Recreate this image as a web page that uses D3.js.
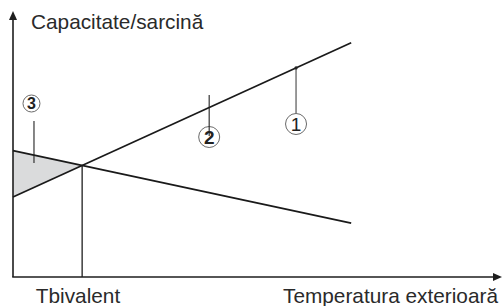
<!DOCTYPE html>
<html><head><meta charset="utf-8">
<script src="https://cdn.jsdelivr.net/npm/d3@7"></script>
<style>html,body{margin:0;padding:0;background:#fff;}svg{display:block;}</style>
</head><body>
<svg id="c" width="502" height="306"></svg>
<script>
// Data (abstract units: x = outside temperature, y = capacity/load, 0..100)
const axisLabels = {y: "Capacitate/sarcină", x: "Temperatura exterioară", bivalent: "Tbivalent"};
const capacityLine = [[0, 30.2], [69.3, 88.4]];   // heat-pump capacity (rises with temp)
const loadLine = [[0, 47.7], [69.3, 20.3]];       // building load (falls with temp)
const markerLabels = ["1", "2", "3"];

const svg = d3.select("#c");
const x = d3.scaleLinear().domain([0, 100]).range([13, 501]);
const y = d3.scaleLinear().domain([0, 100]).range([277, 12]);

function lineAt(l, t) { const [[x0, y0], [x1, y1]] = l; return y0 + (y1 - y0) * (t - x0) / (x1 - x0); }
const sc = (capacityLine[1][1] - capacityLine[0][1]) / (capacityLine[1][0] - capacityLine[0][0]);
const sl = (loadLine[1][1] - loadLine[0][1]) / (loadLine[1][0] - loadLine[0][0]);
const xb = (loadLine[0][1] - capacityLine[0][1]) / (sc - sl);
const yb = lineAt(capacityLine, xb);

const line = d3.line().x(d => x(d[0])).y(d => y(d[1]));

svg.append("path")
  .attr("d", line([[0, loadLine[0][1]], [xb, yb], [0, capacityLine[0][1]]]) + "Z")
  .attr("fill", "#dadbdc").attr("stroke", "none");

const ax = "#1e1e1e";
svg.append("line").attr("x1", x(0)).attr("x2", x(0)).attr("y1", y(0)).attr("y2", y(100) + 6)
  .attr("stroke", ax).attr("stroke-width", 1.6);
svg.append("line").attr("x1", x(0) - 0.8).attr("x2", x(100) - 6).attr("y1", y(0)).attr("y2", y(0))
  .attr("stroke", ax).attr("stroke-width", 1.6);
svg.append("path").attr("d", `M${x(0)},${y(100) - 1} L${x(0) - 4},${y(100) + 8} L${x(0) + 4},${y(100) + 8} Z`).attr("fill", ax);
svg.append("path").attr("d", `M${x(100) + 1},${y(0)} L${x(100) - 8},${y(0) - 4} L${x(100) - 8},${y(0) + 4} Z`).attr("fill", ax);

svg.append("line").attr("x1", x(xb)).attr("x2", x(xb)).attr("y1", y(yb)).attr("y2", y(0))
  .attr("stroke", ax).attr("stroke-width", 1.3);

[capacityLine, loadLine].forEach(l => {
  svg.append("path").attr("d", line(l)).attr("fill", "none").attr("stroke", "#1a1a1a").attr("stroke-width", 1.7);
});

const ff = "'Liberation Sans', Arial, sans-serif";
function marker(cx, cy, r, txt, fs, fw) {
  svg.append("circle").attr("cx", cx).attr("cy", cy).attr("r", r)
    .attr("fill", "#fff").attr("stroke", "#6a6a6a").attr("stroke-width", 1);
  svg.append("text").attr("x", cx).attr("y", cy + fs * 0.36).attr("text-anchor", "middle")
    .attr("font-family", ff).attr("font-weight", fw)
    .attr("font-size", fs).attr("fill", "#222").text(txt);
}
// 1
const x1v = 58;
svg.append("line").attr("x1", x(x1v)).attr("x2", x(x1v)).attr("y1", y(lineAt(capacityLine, x1v))).attr("y2", 114)
  .attr("stroke", "#555").attr("stroke-width", 1.2);
svg.append("circle").attr("cx", x(x1v)).attr("cy", y(lineAt(capacityLine, x1v))).attr("r", 1.6).attr("fill", "#222");
marker(x(x1v), 124, 10.5, markerLabels[0], 19, "normal");
// 2
const x2v = 40.2;
marker(x(x2v), 137, 10.5, markerLabels[1], 19, "bold");
svg.append("line").attr("x1", x(x2v)).attr("x2", x(x2v)).attr("y1", 95).attr("y2", 136)
  .attr("stroke", "#222").attr("stroke-width", 1.1);
// 3
const x3v = 4.3;
svg.append("line").attr("x1", x(x3v)).attr("x2", x(x3v)).attr("y1", 121).attr("y2", 163)
  .attr("stroke", "#222").attr("stroke-width", 1.1);
marker(x(x3v) - 2.5, 103.5, 8.5, markerLabels[2], 16, "bold");

svg.append("text").attr("x", 31).attr("y", 29).attr("font-family", ff).attr("font-size", 20.8).attr("fill", "#2a2a2a").text(axisLabels.y);
svg.append("text").attr("x", 78).attr("y", 303).attr("text-anchor", "middle").attr("font-family", ff).attr("font-size", 20.8).attr("fill", "#2a2a2a").text(axisLabels.bivalent);
svg.append("text").attr("x", 498).attr("y", 303).attr("text-anchor", "end").attr("font-family", ff).attr("font-size", 20.8).attr("fill", "#2a2a2a").text(axisLabels.x);
</script>
</body></html>
